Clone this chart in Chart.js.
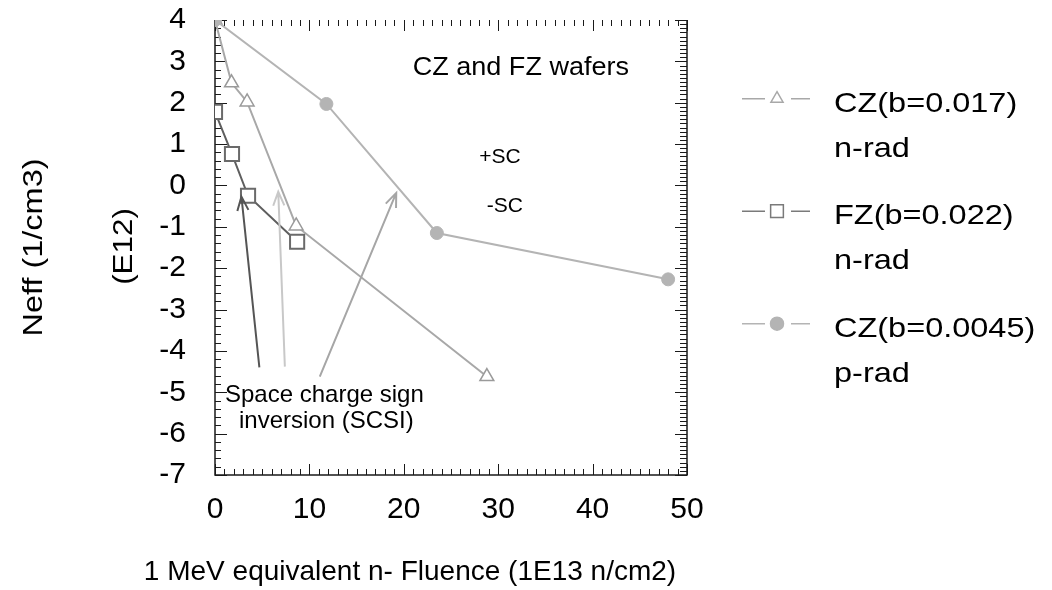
<!DOCTYPE html>
<html>
<head>
<meta charset="utf-8">
<script src="https://cdn.jsdelivr.net/npm/chart.js@4.4.1/dist/chart.umd.min.js"></script>
<style>
  html, body { margin: 0; padding: 0; background: #fff; }
  #wrap { width: 1052px; height: 590px; }
</style>
</head>
<body>
<div id="wrap"><canvas id="chart" width="1052" height="590"></canvas></div>
<script>
// Fluence in 1E13 n/cm2, Neff in E12 1/cm3
const czN017Fluence = [0, 1.75, 3.4, 8.6, 28.8]
const czN017Neff = [4, 2.48, 2.02, -0.98, -4.62]

const fzN022Fluence = [0, 1.8, 3.5, 8.7]
const fzN022Neff = [1.78, 0.76, -0.25, -1.36]

const czP0045Fluence = [0, 11.8, 23.5, 48.0]
const czP0045Neff = [4, 1.97, -1.15, -2.27]

const seriesLabels = [
  ["CZ(b=0.017)", "n-rad"],
  ["FZ(b=0.022)", "n-rad"],
  ["CZ(b=0.0045)", "p-rad"]
]

const xTicks = [0, 10, 20, 30, 40, 50]
const xTickLabels = ["0", "10", "20", "30", "40", "50"]
const yTicks = [4, 3, 2, 1, 0, -1, -2, -3, -4, -5, -6, -7]
const yTickLabels = ["4", "3", "2", "1", "0", "-1", "-2", "-3", "-4", "-5", "-6", "-7"]

// SCSI arrows, tail -> head, in data units
const arrowTails = [[4.7, -4.4], [7.4, -4.38], [11.1, -4.62]]
const arrowHeads = [[2.8, -0.27], [6.7, -0.15], [19.2, -0.18]]

const FONT = "'Liberation Sans', Arial, Helvetica, sans-serif"

const toPoints = (xs, ys) => xs.map((v, i) => ({ x: v, y: ys[i] }))

function drawText(ctx, text, x, y, size, opts = {}) {
  ctx.save()
  ctx.font = size + "px " + FONT
  ctx.fillStyle = opts.color || "#000"
  ctx.textAlign = opts.align || "left"
  ctx.textBaseline = "alphabetic"
  ctx.translate(x, y)
  if (opts.rotate) ctx.rotate(opts.rotate)
  ctx.scale(opts.sx || 1, 1)
  ctx.fillText(text, 0, 0)
  ctx.restore()
}

// axis frame with inward minor ticks (top has ticks but no line)
const framePlugin = {
  id: "frame",
  beforeDatasetsDraw(chart) {
    const { ctx, chartArea: a, scales: { x, y } } = chart
    ctx.save()
    ctx.strokeStyle = "#1a1a1a"
    ctx.lineWidth = 1.5
    ctx.beginPath()
    ctx.moveTo(a.left, a.top)
    ctx.lineTo(a.left, a.bottom)
    ctx.lineTo(a.right, a.bottom)
    ctx.lineTo(a.right, a.top)
    ctx.stroke()

    ctx.lineWidth = 1
    ctx.beginPath()
    for (let i = 0; i <= 50; i++) {
      const px = Math.round(x.getPixelForValue(i)) + 0.5
      const len = i % 10 === 0 ? 11 : 6
      ctx.moveTo(px, a.bottom)
      ctx.lineTo(px, a.bottom - len)
      ctx.moveTo(px, a.top)
      ctx.lineTo(px, a.top + len)
    }
    for (let i = 0; i <= 55; i++) {
      const py = Math.round(y.getPixelForValue(-7 + i * 0.2)) + 0.5
      const len = i % 5 === 0 ? 12 : 6
      ctx.moveTo(a.left, py)
      ctx.lineTo(a.left + len, py)
    }
    for (let i = 0; i <= 110; i++) {
      const py = Math.round(y.getPixelForValue(-7 + i * 0.1)) + 0.5
      const len = i % 10 === 0 ? 12 : 7
      ctx.moveTo(a.right, py)
      ctx.lineTo(a.right - len, py)
    }
    ctx.stroke()
    ctx.restore()
  }
}

const arrowColors = ["#555555", "#c8c8c8", "#a6a6a6"]

const arrowPlugin = {
  id: "arrows",
  afterDatasetsDraw(chart) {
    const { ctx, scales: { x, y } } = chart
    ctx.save()
    ctx.lineWidth = 2
    arrowTails.forEach((t, i) => {
      const x1 = x.getPixelForValue(t[0])
      const y1 = y.getPixelForValue(t[1])
      const x2 = x.getPixelForValue(arrowHeads[i][0])
      const y2 = y.getPixelForValue(arrowHeads[i][1])
      const ang = Math.atan2(y2 - y1, x2 - x1)
      ctx.strokeStyle = arrowColors[i]
      ctx.beginPath()
      ctx.moveTo(x1, y1)
      ctx.lineTo(x2, y2)
      ctx.moveTo(x2 + 15 * Math.cos(ang + Math.PI - 0.38), y2 + 15 * Math.sin(ang + Math.PI - 0.38))
      ctx.lineTo(x2, y2)
      ctx.lineTo(x2 + 15 * Math.cos(ang + Math.PI + 0.38), y2 + 15 * Math.sin(ang + Math.PI + 0.38))
      ctx.stroke()
    })
    ctx.restore()
  }
}

const textPlugin = {
  id: "texts",
  afterDraw(chart) {
    const { ctx, chartArea: a, scales: { x, y } } = chart
    // in-plot notes (anchored in data units)
    drawText(ctx, "CZ and FZ wafers", x.getPixelForValue(20.94), y.getPixelForValue(2.67), 26, { sx: 1.04 })
    drawText(ctx, "+SC", x.getPixelForValue(28.0), y.getPixelForValue(0.535), 21)
    drawText(ctx, "-SC", x.getPixelForValue(28.8), y.getPixelForValue(-0.635), 21)
    drawText(ctx, "Space charge sign", x.getPixelForValue(1.06), y.getPixelForValue(-5.23), 24)
    drawText(ctx, "inversion (SCSI)", x.getPixelForValue(2.54), y.getPixelForValue(-5.86), 24)

    // axis titles
    const yMid = (a.top + a.bottom) / 2
    drawText(ctx, "Neff (1/cm3)", 42, yMid, 28, { rotate: -Math.PI / 2, align: "center", sx: 1.16 })
    drawText(ctx, "(E12)", 132, yMid - 1, 28, { rotate: -Math.PI / 2, align: "center", sx: 1.12 })
    drawText(ctx, "1 MeV equivalent n- Fluence (1E13 n/cm2)", 410, 580, 28, { align: "center" })

    // legend to the right of the frame
    chart.data.datasets.forEach((ds, i) => {
      const base = a.top + 91.7 + i * 112.5
      const ly = base - 13
      ctx.save()
      ctx.strokeStyle = ds.legendColor
      ctx.lineWidth = 1.5
      ctx.beginPath()
      ctx.moveTo(a.right + 55, ly)
      ctx.lineTo(a.right + 78, ly)
      ctx.moveTo(a.right + 104, ly)
      ctx.lineTo(a.right + 123, ly)
      ctx.stroke()
      ctx.fillStyle = ds.pointBackgroundColor
      ctx.strokeStyle = ds.legendColor
      Chart.helpers.drawPoint(ctx, {
        pointStyle: ds.pointStyle,
        radius: ds.legendRadius,
        borderWidth: 1.5,
        rotation: 0
      }, a.right + 90, ly)
      ctx.restore()
      drawText(ctx, seriesLabels[i][0], a.right + 147, base, 28, { sx: 1.16 })
      drawText(ctx, seriesLabels[i][1], a.right + 147, base + 45, 28, { sx: 1.16 })
    })
  }
}

const ctx = document.getElementById("chart").getContext("2d")

new Chart(ctx, {
  type: "scatter",
  data: {
    datasets: [
      {
        label: seriesLabels[0].join(" "),
        data: toPoints(czN017Fluence, czN017Neff),
        showLine: true,
        borderColor: "#a8a8a8",
        borderWidth: 2,
        pointStyle: "triangle",
        pointRadius: 8,
        pointBorderColor: "#9a9a9a",
        pointBackgroundColor: "#ffffff",
        pointBorderWidth: 1.5,
        legendColor: "#a8a8a8",
        legendRadius: 7,
        order: 2
      },
      {
        label: seriesLabels[1].join(" "),
        data: toPoints(fzN022Fluence, fzN022Neff),
        showLine: true,
        borderColor: "#5e5e5e",
        borderWidth: 2,
        pointStyle: "rect",
        pointRadius: 10,
        pointBorderColor: "#6a6a6a",
        pointBackgroundColor: "#ffffff",
        pointBorderWidth: 2,
        legendColor: "#7a7a7a",
        legendRadius: 9,
        order: 1
      },
      {
        label: seriesLabels[2].join(" "),
        data: toPoints(czP0045Fluence, czP0045Neff),
        showLine: true,
        borderColor: "#b4b4b4",
        borderWidth: 2,
        pointStyle: "circle",
        pointRadius: 6.5,
        pointBorderColor: "#b4b4b4",
        pointBackgroundColor: "#b4b4b4",
        pointBorderWidth: 1,
        legendColor: "#b4b4b4",
        legendRadius: 6.5,
        order: 0
      }
    ]
  },
  options: {
    responsive: false,
    animation: false,
    layout: { padding: { left: 0, top: 20, right: 365, bottom: 0 } },
    plugins: {
      legend: { display: false },
      tooltip: { enabled: false }
    },
    scales: {
      x: {
        type: "linear",
        min: 0,
        max: 50,
        grid: { display: false },
        border: { display: false },
        afterBuildTicks: (s) => { s.ticks = xTicks.map((v) => ({ value: v })) },
        afterFit: (s) => { s.height = 115 },
        ticks: {
          color: "#000",
          padding: 9,
          font: { family: FONT, size: 30 },
          callback: (v, i) => xTickLabels[i]
        }
      },
      y: {
        type: "linear",
        min: -7,
        max: 4,
        grid: { display: false },
        border: { display: false },
        afterBuildTicks: (s) => { s.ticks = yTicks.map((v) => ({ value: v })) },
        afterFit: (s) => {
          s.width = 215
          // tick padding would otherwise push the plot top down
          s.paddingTop = 0
          s.paddingBottom = 0
        },
        ticks: {
          color: "#000",
          padding: 21,
          font: { family: FONT, size: 30 },
          callback: (v, i) => yTickLabels[i]
        }
      }
    }
  },
  plugins: [framePlugin, arrowPlugin, textPlugin]
})
</script>
</body>
</html>
